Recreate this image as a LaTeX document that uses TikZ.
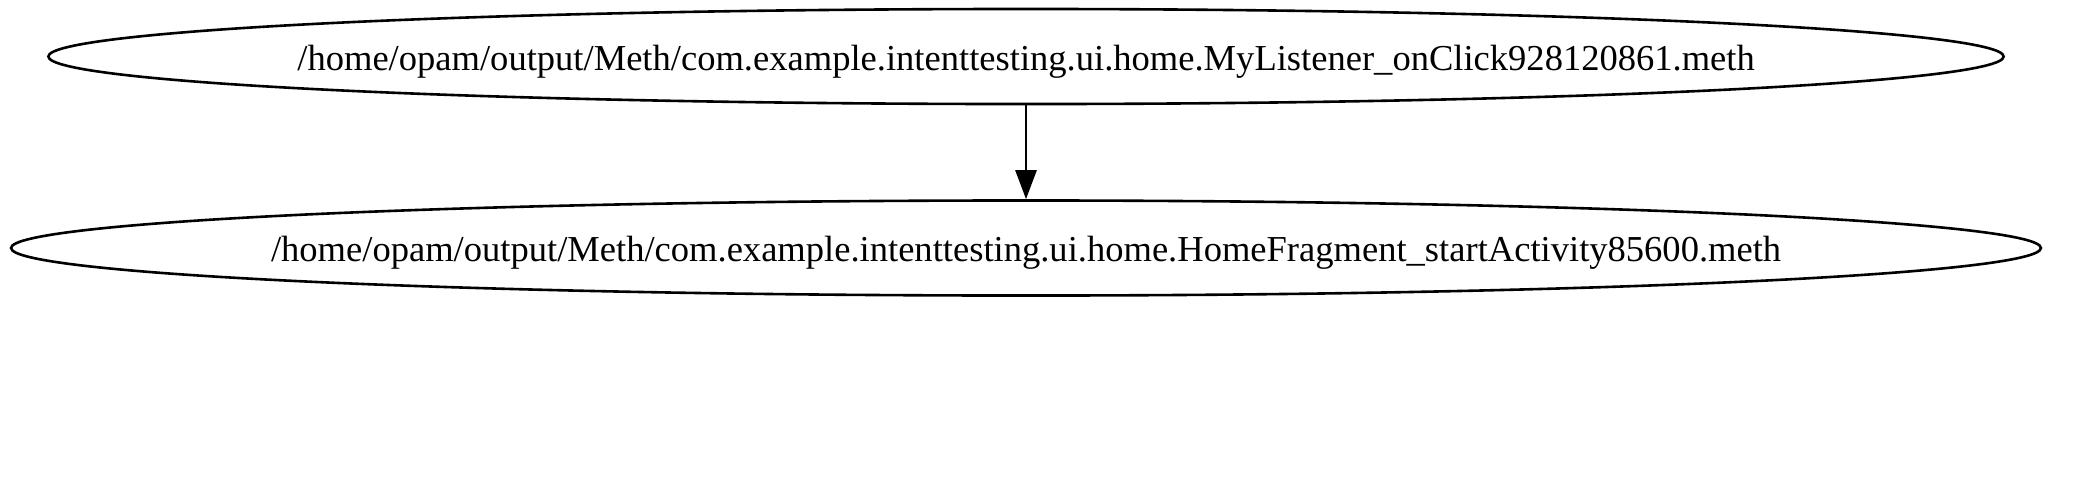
\documentclass[tikz,border=0pt]{standalone}
\usepackage{fontspec}
\setmainfont{Liberation Serif}
\usetikzlibrary{shapes.geometric,arrows.meta}

\begin{document}
\begin{tikzpicture}[x=0.01cm, y=-0.01cm,
  meth/.style={draw, ellipse, line width=0.74pt, inner xsep=-0.373cm, inner ysep=0pt,
    minimum height=0.95cm, text height=0.27cm, text depth=0cm,
    font=\fontsize{10.39pt}{12pt}\selectfont},
  call/.style={line width=0.74pt, -{Triangle[length=0.29cm, width=0.21cm]}}]
\useasboundingbox (0,0) rectangle (2082,493);
\node [meth] (listener) at (1026,56.5) {/home/opam/output/Meth/com.example.intenttesting.ui.home.MyListener\_onClick928120861.meth};
\node [meth] (fragment) at (1026,248) {/home/opam/output/Meth/com.example.intenttesting.ui.home.HomeFragment\_startActivity85600.meth};
\draw [call] (listener) -- (fragment);
\end{tikzpicture}
\end{document}
